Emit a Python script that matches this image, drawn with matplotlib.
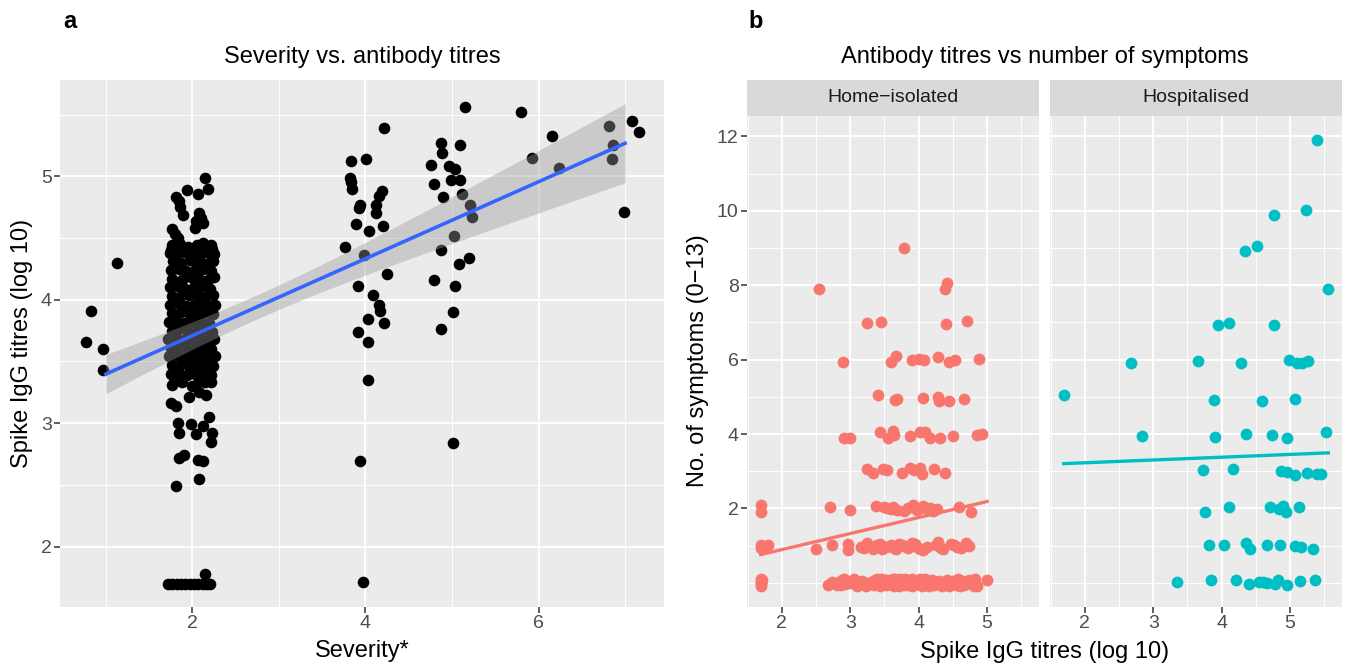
import numpy as np
import matplotlib
matplotlib.use("Agg")
import matplotlib.pyplot as plt

plt.rcParams['font.family'] = ['Liberation Sans', 'DejaVu Sans']

PANEL_BG = "#EBEBEB"
STRIP_BG = "#D9D9D9"
TICK_TXT = "#4D4D4D"
TICK_COL = "#333333"
HOME_COL = "#F8766D"
HOSP_COL = "#00BFC4"
FIT_COL = "#3366FF"
T975 = 1.97

# ── Panel a : jittered severity vs spike IgG titre (log10) ─────────────────
sev1_pts = [(1.13, 4.30), (0.83, 3.91), (0.77, 3.66), (0.97, 3.60), (0.97, 3.43)]

sev2_top = [(2.14, 4.99), (2.18, 4.90), (2.06, 4.86), (1.94, 4.89), (1.81, 4.83),
            (1.84, 4.80), (1.86, 4.75), (1.89, 4.69), (2.08, 4.70), (2.04, 4.64),
            (2.12, 4.62), (2.10, 4.66), (2.03, 4.58), (1.77, 4.57), (1.80, 4.53),
            (1.83, 4.50), (2.12, 4.46), (2.23, 4.41), (1.75, 4.40)]

sev2_core = [
    (1.76, 4.44), (1.86, 4.45), (1.95, 4.43), (2.05, 4.44), (2.14, 4.42), (2.22, 4.44),
    (1.74, 4.38), (1.82, 4.37), (1.91, 4.39), (2.00, 4.38), (2.09, 4.36), (2.19, 4.38), (2.25, 4.37),
    (1.78, 4.31), (1.87, 4.30), (1.97, 4.32), (2.06, 4.31), (2.16, 4.29), (2.24, 4.31),
    (1.75, 4.24), (1.84, 4.25), (1.93, 4.23), (2.03, 4.24), (2.12, 4.25), (2.21, 4.23),
    (1.77, 4.17), (1.88, 4.16), (1.98, 4.18), (2.08, 4.17), (2.18, 4.16), (2.25, 4.18),
    (1.74, 4.10), (1.83, 4.11), (1.92, 4.09), (2.02, 4.10), (2.11, 4.11), (2.20, 4.09),
    (1.77, 4.03), (1.86, 4.02), (1.96, 4.04), (2.06, 4.03), (2.15, 4.02), (2.24, 4.04),
    (1.74, 3.96), (1.83, 3.97), (1.93, 3.95), (2.02, 3.96), (2.11, 3.97), (2.21, 3.95), (2.26, 3.96),
    (1.76, 3.89), (1.87, 3.90), (1.97, 3.88), (2.07, 3.89), (2.16, 3.90), (2.24, 3.88),
    (1.73, 3.82), (1.82, 3.83), (1.91, 3.81), (2.01, 3.82), (2.10, 3.83), (2.19, 3.81),
    (1.76, 3.75), (1.85, 3.76), (1.95, 3.74), (2.05, 3.75), (2.14, 3.76), (2.23, 3.74),
    (1.72, 3.68), (1.81, 3.69), (1.90, 3.67), (2.00, 3.68), (2.09, 3.69), (2.18, 3.67), (2.25, 3.68),
    (1.75, 3.61), (1.85, 3.62), (1.94, 3.60), (2.04, 3.61), (2.13, 3.62), (2.22, 3.60),
    (1.73, 3.54), (1.82, 3.55), (1.92, 3.53), (2.01, 3.54), (2.11, 3.55), (2.20, 3.53), (2.26, 3.54),
    (1.77, 3.47), (1.87, 3.48), (1.96, 3.46), (2.06, 3.47), (2.15, 3.48), (2.24, 3.46),
    (1.75, 3.40), (1.84, 3.41), (1.94, 3.39), (2.03, 3.40), (2.13, 3.41), (2.21, 3.39),
    (1.79, 3.33), (1.88, 3.33), (2.00, 3.30), (2.08, 3.34), (2.15, 3.33), (2.21, 3.33)]

sev2_low = [(1.77, 3.31), (2.08, 3.25), (1.96, 3.21), (2.16, 3.23), (1.75, 3.16),
            (1.81, 3.14), (1.83, 3.00), (1.98, 2.99), (2.19, 3.05), (2.12, 2.98),
            (2.04, 2.91), (2.23, 2.92), (1.84, 2.92), (2.21, 2.85), (1.90, 2.74),
            (1.84, 2.72), (2.06, 2.70), (2.12, 2.69), (2.08, 2.55), (1.81, 2.49)]

sev2_floor = [(1.72, 1.70), (1.77, 1.70), (1.82, 1.70), (1.87, 1.70), (1.92, 1.70),
              (1.97, 1.70), (2.02, 1.70), (2.07, 1.70), (2.12, 1.70), (2.17, 1.70),
              (2.20, 1.70), (2.14, 1.78)]

sev4_pts = [(4.21, 5.39), (3.83, 5.12), (4.01, 5.14), (3.82, 4.99), (3.83, 4.95),
            (3.84, 4.90), (4.19, 4.88), (4.16, 4.84), (4.12, 4.77), (3.94, 4.77),
            (3.92, 4.74), (4.12, 4.70), (3.89, 4.61), (4.04, 4.56), (4.20, 4.60),
            (3.76, 4.43), (3.98, 4.36), (4.25, 4.21), (3.91, 4.11), (4.09, 4.04),
            (4.16, 3.96), (4.17, 3.91), (4.03, 3.84), (4.22, 3.81), (3.91, 3.74),
            (4.03, 3.66), (4.03, 3.35), (3.94, 2.69), (3.97, 1.71)]

sev5_pts = [(5.15, 5.56), (4.87, 5.27), (4.88, 5.19), (5.09, 5.25), (4.76, 5.09),
            (4.97, 5.08), (5.03, 5.06), (4.79, 4.94), (4.99, 4.97), (5.09, 4.97),
            (4.90, 4.83), (5.11, 4.86), (5.21, 4.77), (5.23, 4.67), (5.02, 4.52),
            (4.87, 4.40), (5.20, 4.34), (5.08, 4.29), (4.79, 4.16), (5.04, 4.11),
            (5.01, 3.90), (4.87, 3.76), (5.01, 2.84)]

sev6_pts = [(5.80, 5.52), (6.15, 5.33), (5.92, 5.15), (6.24, 5.07)]

sev7_pts = [(6.81, 5.41), (7.08, 5.45), (7.16, 5.36), (6.86, 5.25), (6.85, 5.14), (6.99, 4.71)]

# ── Panel b : spike IgG titre vs number of symptoms (jittered) ─────────────
home_pts = [
    (3.79, 8.99), (2.54, 7.90), (4.42, 8.05), (4.39, 7.90),
    (3.24, 6.99), (3.45, 7.02), (4.40, 6.95), (4.70, 7.04),
    (2.90, 5.95), (3.59, 5.95), (3.67, 6.09), (3.91, 5.99), (4.01, 6.03), (4.08, 6.00),
    (4.29, 6.06), (4.45, 5.93), (4.53, 6.00), (4.88, 6.03),
    (3.40, 5.05), (3.66, 4.92), (3.68, 4.95), (4.06, 4.96), (4.29, 4.99), (4.30, 4.88),
    (4.44, 4.90), (4.66, 4.94),
    (2.91, 3.90), (3.00, 3.90), (3.44, 4.06), (3.55, 3.90), (3.62, 4.08), (3.64, 3.97),
    (3.88, 3.95), (4.02, 4.06), (4.10, 4.06), (4.16, 3.90), (4.31, 3.90), (4.50, 3.95),
    (4.85, 3.97), (4.92, 3.99),
    (3.25, 3.07), (3.33, 2.95), (3.48, 3.06), (3.54, 3.04), (3.75, 2.96), (3.87, 3.10),
    (3.93, 3.04), (4.02, 3.08), (4.05, 2.92), (4.23, 3.06), (4.39, 2.94),
    (1.69, 2.08), (1.69, 1.90), (2.70, 2.04), (2.99, 1.96), (3.38, 2.07), (3.49, 2.03),
    (3.59, 1.99), (3.68, 1.96), (3.79, 1.92), (3.92, 2.08), (4.02, 2.01), (4.12, 1.99),
    (4.21, 1.94), (4.27, 1.99), (4.59, 2.05), (4.77, 1.90),
    (3.53, 2.00), (3.63, 2.05), (3.85, 2.02), (3.97, 1.95), (4.07, 2.06), (4.17, 2.02),
    (1.69, 0.94), (1.79, 1.01), (2.50, 0.91), (2.74, 1.03), (2.96, 1.05), (2.97, 0.89),
    (3.20, 0.94), (3.25, 1.07), (3.39, 1.03), (3.47, 0.90), (3.59, 1.03), (3.64, 0.94),
    (3.71, 1.05), (3.79, 0.99), (3.90, 1.08), (3.98, 0.96), (4.07, 0.89), (4.29, 1.10),
    (4.32, 0.94), (4.56, 0.96), (4.69, 1.07),
    (1.69, 1.02), (1.72, 0.96), (3.15, 0.97), (3.33, 0.92), (3.43, 1.04), (3.52, 0.95),
    (3.67, 0.91), (3.75, 1.02), (3.84, 0.93), (3.94, 1.04), (4.02, 0.92), (4.12, 0.97),
    (4.25, 1.02), (4.36, 0.90), (4.52, 1.03), (4.62, 0.93), (4.74, 0.98), (4.47, 1.05),
    (1.69, 0.10), (1.69, -0.09), (1.69, 0.00), (2.68, -0.06), (2.83, 0.02), (2.86, -0.07),
    (2.91, 0.10), (3.00, -0.01), (3.10, -0.09), (3.20, -0.07), (3.25, -0.02), (3.30, 0.02),
    (3.39, 0.11), (3.49, 0.00), (3.54, 0.08), (3.59, -0.04), (3.64, -0.09), (3.68, 0.07),
    (3.78, -0.07), (3.83, 0.05), (3.90, 0.11), (4.00, -0.01), (4.05, -0.09), (4.10, 0.10),
    (4.17, -0.07), (4.27, 0.02), (4.34, -0.09), (4.41, 0.08), (4.46, -0.04), (4.58, 0.11),
    (4.60, -0.09), (4.70, 0.02), (4.83, 0.10), (4.85, -0.09), (5.00, 0.08),
    (1.69, 0.05), (1.70, -0.04), (1.71, 0.08), (2.95, 0.04), (3.05, 0.09), (3.13, 0.01),
    (3.17, 0.06), (3.23, -0.08), (3.34, -0.05), (3.36, 0.07), (3.44, -0.08), (3.46, 0.05),
    (3.52, -0.06), (3.57, 0.03), (3.62, 0.10), (3.66, -0.03), (3.72, -0.08), (3.74, 0.04),
    (3.80, 0.09), (3.86, -0.05), (3.88, 0.02), (3.93, -0.07), (3.96, 0.06), (4.02, 0.09),
    (4.08, -0.04), (4.12, 0.03), (4.15, -0.09), (4.20, 0.07), (4.23, -0.05), (4.30, 0.06),
    (4.37, 0.03), (4.44, -0.08), (4.50, 0.05), (4.54, -0.06), (4.63, 0.04), (4.67, -0.07),
    (4.74, 0.08), (4.78, -0.03), (4.81, -0.08),
    (2.74, 0.03), (2.80, -0.05), (2.88, 0.07), (2.93, -0.03),
    (3.47, 0.09), (3.51, 0.01), (3.55, -0.03), (3.60, 0.06), (3.65, 0.09), (3.70, -0.05),
    (3.73, 0.10), (3.76, 0.01), (3.82, -0.02), (3.87, 0.08), (3.91, -0.08), (3.98, 0.03),
    (4.04, 0.05), (4.09, -0.06)]

hosp_pts = [
    (5.39, 11.91), (5.24, 10.02), (4.76, 9.90), (4.52, 9.05), (4.34, 8.93), (5.56, 7.90),
    (3.95, 6.93), (4.11, 6.99), (4.76, 6.93),
    (2.68, 5.92), (3.65, 5.96), (4.28, 5.92), (4.99, 5.99), (5.10, 5.90), (5.18, 5.92), (5.27, 5.97),
    (1.69, 5.06), (3.89, 4.91), (4.59, 4.89), (5.07, 4.95),
    (2.84, 3.95), (3.91, 3.92), (4.35, 3.99), (4.73, 3.97), (4.96, 3.89), (5.52, 4.06),
    (3.73, 3.04), (4.16, 3.07), (4.87, 3.01), (4.96, 2.99), (5.08, 2.90), (5.25, 2.95),
    (5.40, 2.92), (5.46, 2.92),
    (3.76, 1.90), (4.11, 2.03), (4.70, 2.04), (4.84, 1.99), (4.90, 2.07), (4.94, 1.90), (5.13, 2.03),
    (3.82, 1.03), (4.03, 1.03), (4.35, 1.07), (4.42, 0.91), (4.67, 1.03), (4.86, 1.03),
    (5.08, 0.98), (5.16, 0.96), (5.33, 0.91),
    (3.34, 0.02), (3.84, 0.07), (4.21, 0.08), (4.40, -0.04), (4.55, 0.03), (4.67, 0.00),
    (4.78, -0.02), (4.83, 0.08), (4.96, -0.06), (5.14, 0.05), (5.36, 0.07),
    (4.60, 0.02)]

# ── Layout ────────────────────────────────────────────────────────────────
W, H = 1345, 668
fig = plt.figure(figsize=(W / 100, H / 100), dpi=100)
fig.patch.set_facecolor("white")


def px_axes(x0, y0, x1, y1):
    return fig.add_axes([x0 / W, 1 - y1 / H, (x1 - x0) / W, (y1 - y0) / H])


def style_panel(ax, xlim, ylim, xmaj, xmin, ymaj, ymin, show_y=True):
    ax.set_facecolor(PANEL_BG)
    ax.set_xlim(*xlim)
    ax.set_ylim(*ylim)
    ax.set_xticks(xmaj, [str(v) for v in xmaj])
    ax.set_xticks(xmin, minor=True)
    ax.set_yticks(ymaj, [str(v) for v in ymaj])
    ax.set_yticks(ymin, minor=True)
    ax.grid(which="major", color="white", lw=1.4)
    ax.grid(which="minor", color="white", lw=0.7)
    ax.set_axisbelow(True)
    for s in ax.spines.values():
        s.set_visible(False)
    ax.tick_params(which="minor", length=0)
    ax.tick_params(which="major", length=4, width=1.1, color=TICK_COL,
                   labelcolor=TICK_TXT, labelsize=14, pad=2)
    if not show_y:
        ax.tick_params(axis="y", which="both", left=False, labelleft=False)


def lm_fit(x, y):
    b1, b0 = np.polyfit(x, y, 1)
    return b0, b1


# ── Panel a ───────────────────────────────────────────────────────────────
a_pts = np.array(sev1_pts + sev2_top + sev2_core + sev2_low + sev2_floor +
                 sev4_pts + sev5_pts + sev6_pts + sev7_pts)
a_x, a_y = a_pts[:, 0], a_pts[:, 1]
a_sev = np.round(a_x)

ax_a = px_axes(60, 80, 664, 607)
style_panel(ax_a, (0.47, 7.45), (1.51, 5.78), [2, 4, 6], [1, 3, 5, 7],
            [2, 3, 4, 5], [2.5, 3.5, 4.5, 5.5])
ax_a.scatter(a_x, a_y, s=70, color="black", linewidths=0, zorder=2)

b0, b1 = lm_fit(a_sev, a_y)
n = len(a_sev)
resid = a_y - (b0 + b1 * a_sev)
s_err = np.sqrt(np.sum(resid ** 2) / (n - 2))
sxx = np.sum((a_sev - a_sev.mean()) ** 2)
xs = np.linspace(a_sev.min(), a_sev.max(), 100)
ys = b0 + b1 * xs
half = T975 * s_err * np.sqrt(1 / n + (xs - a_sev.mean()) ** 2 / sxx)
ax_a.fill_between(xs, ys - half, ys + half, color="#999999", alpha=0.4,
                  linewidth=0, zorder=3)
ax_a.plot(xs, ys, color=FIT_COL, lw=2.6, zorder=4)

fig.text(63 / W, 1 - 22 / H, "a", fontsize=17, fontweight="bold", ha="left", va="center")
fig.text(362 / W, 1 - 57 / H, "Severity vs. antibody titres", fontsize=17,
         ha="center", va="center")
fig.text(362 / W, 1 - 651 / H, "Severity*", fontsize=17, ha="center", va="center")
fig.text(22 / W, 1 - 343 / H, "Spike IgG titres (log 10)", fontsize=17,
         ha="center", va="center", rotation=90)

# ── Panel b ───────────────────────────────────────────────────────────────
facets = [("Home\u2212isolated", home_pts, HOME_COL, 747, 1039),
          ("Hospitalised", hosp_pts, HOSP_COL, 1050, 1342)]

for i, (name, pts, col, x0, x1) in enumerate(facets):
    arr = np.array(pts)
    fx, fy = arr[:, 0], arr[:, 1]
    ax = px_axes(x0, 116, x1, 607)
    style_panel(ax, (1.49, 5.76), (-0.65, 12.55), [2, 3, 4, 5],
                [1.5, 2.5, 3.5, 4.5, 5.5], [2, 4, 6, 8, 10, 12],
                [0, 1, 3, 5, 7, 9, 11], show_y=(i == 0))
    ax.scatter(fx, fy, s=72, color=col, linewidths=0, zorder=2)
    c0, c1 = lm_fit(fx, np.round(fy))
    lx = np.array([fx.min(), fx.max()])
    ax.plot(lx, c0 + c1 * lx, color=col, lw=2.4, zorder=3)

    strip = px_axes(x0, 80, x1, 116)
    strip.set_facecolor(STRIP_BG)
    strip.set_xticks([])
    strip.set_yticks([])
    for s in strip.spines.values():
        s.set_visible(False)
    strip.text(0.5, 0.5, name, fontsize=14, color="#1A1A1A",
               ha="center", va="center", transform=strip.transAxes)

fig.text(748 / W, 1 - 22 / H, "b", fontsize=17, fontweight="bold", ha="left", va="center")
fig.text(1045 / W, 1 - 57 / H, "Antibody titres vs number of symptoms", fontsize=17,
         ha="center", va="center")
fig.text(1045 / W, 1 - 652 / H, "Spike IgG titres (log 10)", fontsize=17,
         ha="center", va="center")
fig.text(698 / W, 1 - 361 / H, "No. of symptoms (0\u221213)", fontsize=17,
         ha="center", va="center", rotation=90)

fig.savefig("out.png", dpi=100, facecolor="white")
